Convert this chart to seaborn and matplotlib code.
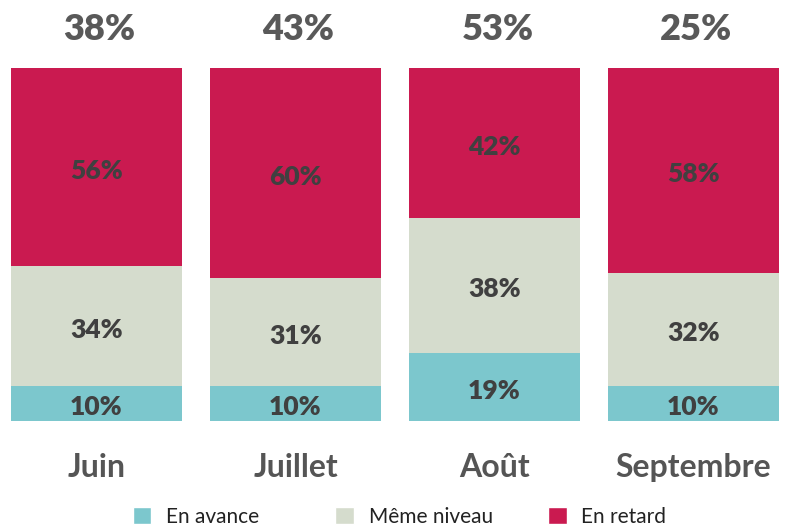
import seaborn as sns
import matplotlib.pyplot as plt
from matplotlib.patches import Patch
import numpy as np

# data
mois = ["Juin", "Juillet", "Août", "Septembre"]
en_avance = np.array([10, 10, 19, 10])
meme_niveau = np.array([34, 31, 38, 32])
en_retard = np.array([56, 60, 42, 58])
totaux_haut = ["38%", "43%", "53%", "25%"]

c_avance = "#7CC7CD"
c_niveau = "#D5DCCD"
c_retard = "#CA1A50"

sns.set_style("white")
plt.rcParams['font.family'] = ['Lato', 'DejaVu Sans']

# each bar is stretched to fill the full height
somme = en_avance + meme_niveau + en_retard
p_avance = en_avance / somme * 100
p_niveau = meme_niveau / somme * 100
p_retard = en_retard / somme * 100

fig = plt.figure(figsize=(7.85, 5.27), dpi=100)
ax = fig.add_axes([0, 0.2011, 1, 0.6698])

w = 0.86
sns.barplot(x=mois, y=p_avance + p_niveau + p_retard, color=c_retard, saturation=1, width=w,
            linewidth=0, ax=ax)
sns.barplot(x=mois, y=p_avance + p_niveau, color=c_niveau, saturation=1, width=w,
            linewidth=0, ax=ax)
sns.barplot(x=mois, y=p_avance, color=c_avance, saturation=1, width=w, linewidth=0, ax=ax)

# segment labels
for i in range(len(mois)):
    bas = 0
    for vals, pct in [(en_avance, p_avance), (meme_niveau, p_niveau), (en_retard, p_retard)]:
        ax.text(i, bas + pct[i] / 2 - 1.1, f"{vals[i]}%", ha='center', va='center',
                fontsize=19, fontweight='heavy', color='#404040')
        bas += pct[i]
    ax.text(i + 0.015, 110.8, totaux_haut[i], ha='center', va='center', fontsize=26,
            fontweight='heavy', color='#595959', clip_on=False)

ax.set_xlim(-0.485, 3.46)
ax.set_ylim(0, 100)
ax.set_yticks([])
ax.set_ylabel("")
ax.tick_params(axis='x', length=0, pad=23, labelsize=23, labelcolor='#555555')
for lab in ax.get_xticklabels():
    lab.set_fontweight('bold')
sns.despine(ax=ax, left=True, bottom=True)

# legend, one entry at a time
entrees = [("En avance", c_avance, 0.169), ("Même niveau", c_niveau, 0.427), ("En retard", c_retard, 0.698)]
for nom, col, xpos in entrees:
    fig.legend(handles=[Patch(facecolor=col, label=nom)], loc='upper left',
               bbox_to_anchor=(xpos, 0.038), frameon=False, fontsize=15,
               handlelength=0.9, handleheight=0.9, handletextpad=0.7,
               borderpad=0, borderaxespad=0, labelcolor='#222222')

plt.savefig('out.png', dpi=100)
